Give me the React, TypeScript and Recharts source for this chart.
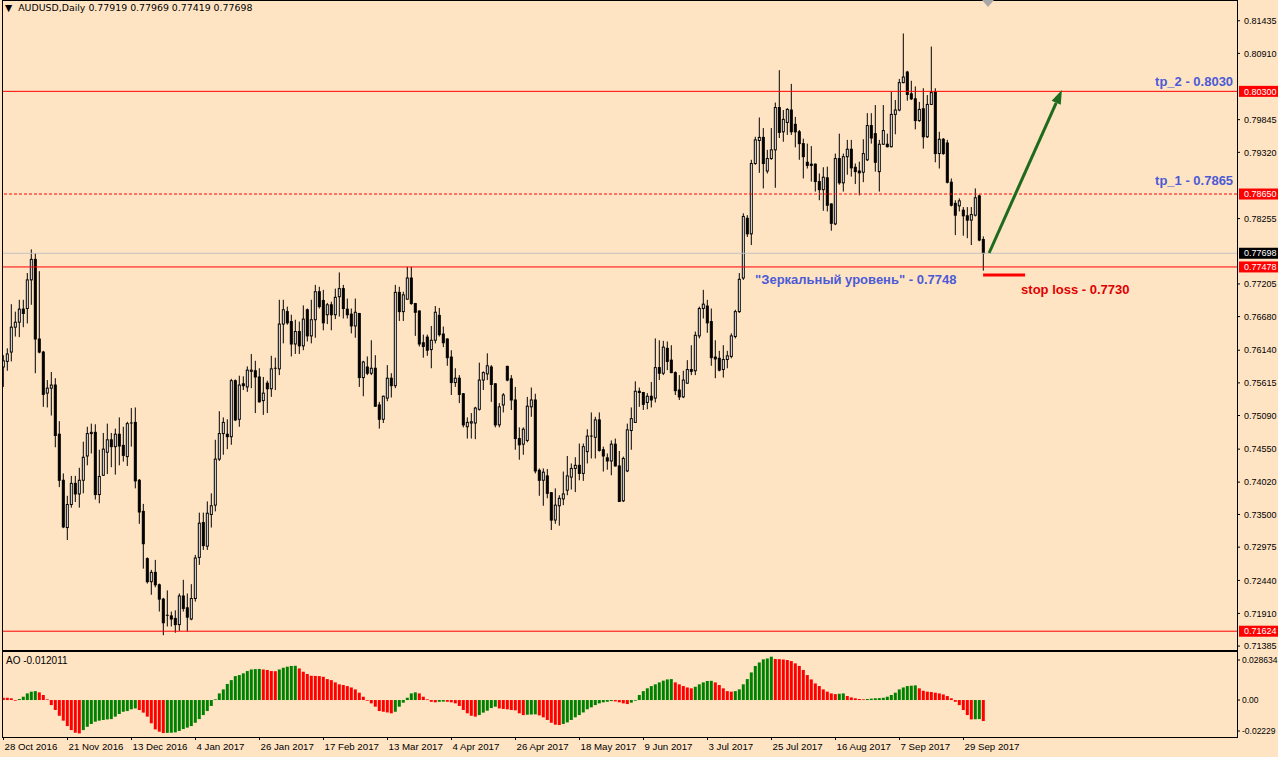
import React from "react";
import { ComposedChart, Bar, XAxis, YAxis, ReferenceLine, ReferenceDot } from "recharts";

// daily AUDUSD candles, 28 Oct 2016 .. early Oct 2017 (index = bar number)
const OPEN = [
  0.7587, 0.7596, 0.7611, 0.7651, 0.7659, 0.768, 0.7681, 0.7727, 0.776, 0.7632,
  0.7611, 0.7545, 0.7553, 0.7558, 0.7479, 0.7405, 0.7329, 0.7366, 0.74, 0.7383,
  0.7405, 0.7444, 0.748, 0.7482, 0.7382, 0.7413, 0.745, 0.747, 0.7459, 0.7479,
  0.7461, 0.7443, 0.7496, 0.7498, 0.7405, 0.7355, 0.7279, 0.7242, 0.7257, 0.7237,
  0.7214, 0.7188, 0.7187, 0.7183, 0.7173, 0.7219, 0.72, 0.7182, 0.7215, 0.7281,
  0.7337, 0.7299, 0.735, 0.7365, 0.7439, 0.748, 0.7479, 0.7475, 0.7565, 0.7503,
  0.756, 0.7555, 0.758, 0.7581, 0.7571, 0.7533, 0.7561, 0.7552, 0.7584, 0.7584,
  0.7656, 0.7676, 0.766, 0.7624, 0.7644, 0.7621, 0.7679, 0.7637, 0.7663, 0.7708,
  0.7694, 0.7671, 0.7687, 0.7671, 0.77, 0.7713, 0.768, 0.7672, 0.7653, 0.7673,
  0.757, 0.7587, 0.7577, 0.7585, 0.7526, 0.7503, 0.7537, 0.7569, 0.7557, 0.7707,
  0.7676, 0.7696, 0.773, 0.7689, 0.7677, 0.7626, 0.7635, 0.7615, 0.763, 0.767,
  0.764, 0.7632, 0.7603, 0.7562, 0.7569, 0.7544, 0.7491, 0.7497, 0.7497, 0.7519,
  0.7566, 0.7576, 0.7587, 0.756, 0.7494, 0.7526, 0.7588, 0.7568, 0.7534, 0.7472,
  0.7463, 0.7469, 0.7523, 0.7534, 0.7421, 0.7405, 0.7412, 0.7385, 0.7341, 0.7364,
  0.7375, 0.7389, 0.741, 0.7424, 0.7429, 0.7416, 0.7451, 0.7476, 0.7474, 0.7502,
  0.7454, 0.7441, 0.7436, 0.7463, 0.7428, 0.7372, 0.742, 0.7485, 0.7498, 0.7548,
  0.7546, 0.753, 0.754, 0.7537, 0.7586, 0.7577, 0.7617, 0.7598, 0.7578, 0.755,
  0.7539, 0.7561, 0.7583, 0.7581, 0.7637, 0.7681, 0.7685, 0.766, 0.7603, 0.7601,
  0.7583, 0.7599, 0.7604, 0.7636, 0.7676, 0.773, 0.7826, 0.7801, 0.7914, 0.7951,
  0.7956, 0.7902, 0.7922, 0.7936, 0.8004, 0.7965, 0.798, 0.8, 0.7977, 0.7965,
  0.7946, 0.7916, 0.7913, 0.7913, 0.7885, 0.7872, 0.7891, 0.7849, 0.7817, 0.7922,
  0.7883, 0.7925, 0.7937, 0.7908, 0.7902, 0.79, 0.792, 0.7975, 0.7962, 0.7901,
  0.7945, 0.7945, 0.7941, 0.7993, 0.8, 0.8044, 0.8061, 0.8026, 0.8018, 0.7983,
  0.8002, 0.7957, 0.8009, 0.8029, 0.793, 0.7953, 0.7947, 0.7884, 0.785, 0.7846,
  0.7839, 0.783, 0.7823, 0.7831, 0.7862, 0.77919,
];
const HIGH = [
  0.7606, 0.7617, 0.7688, 0.7676, 0.7695, 0.7695, 0.7738, 0.7776, 0.777, 0.7741,
  0.7613, 0.7566, 0.7579, 0.7569, 0.75, 0.7416, 0.738, 0.7412, 0.7412, 0.7425,
  0.7467, 0.7491, 0.7496, 0.7495, 0.7454, 0.7481, 0.7496, 0.7481, 0.7488, 0.7506,
  0.7491, 0.7499, 0.7521, 0.7522, 0.7407, 0.7367, 0.7281, 0.7261, 0.7277, 0.7239,
  0.7216, 0.7228, 0.7194, 0.7196, 0.7223, 0.7245, 0.7223, 0.7238, 0.7285, 0.7353,
  0.7353, 0.7371, 0.7384, 0.747, 0.7516, 0.7506, 0.7503, 0.7568, 0.7567, 0.7573,
  0.7572, 0.7588, 0.7608, 0.7597, 0.7585, 0.7571, 0.7565, 0.7605, 0.7602, 0.7695,
  0.7695, 0.7684, 0.7671, 0.7663, 0.766, 0.7686, 0.7681, 0.7695, 0.7719, 0.7716,
  0.7711, 0.769, 0.7692, 0.7713, 0.7739, 0.7719, 0.7697, 0.7681, 0.7697, 0.7674,
  0.7597, 0.7604, 0.763, 0.7606, 0.7531, 0.7541, 0.759, 0.7577, 0.7719, 0.7716,
  0.7708, 0.7748, 0.7748, 0.769, 0.7678, 0.7639, 0.7639, 0.7653, 0.7685, 0.7682,
  0.7652, 0.7633, 0.7614, 0.7585, 0.7574, 0.7545, 0.7506, 0.7513, 0.7523, 0.7594,
  0.758, 0.7609, 0.759, 0.7561, 0.7529, 0.7545, 0.7589, 0.7574, 0.7555, 0.749,
  0.749, 0.7539, 0.7554, 0.7544, 0.7424, 0.7424, 0.7423, 0.7386, 0.7392, 0.7381,
  0.7419, 0.7444, 0.7432, 0.7442, 0.7464, 0.7464, 0.7487, 0.7514, 0.7507, 0.7514,
  0.7459, 0.7448, 0.7469, 0.7472, 0.7452, 0.7443, 0.7496, 0.7522, 0.7564, 0.7554,
  0.7547, 0.7545, 0.7563, 0.7633, 0.763, 0.7629, 0.7628, 0.7622, 0.758, 0.7574,
  0.7581, 0.7598, 0.7622, 0.7644, 0.7684, 0.7711, 0.7695, 0.7681, 0.763, 0.7613,
  0.7622, 0.7613, 0.7641, 0.7679, 0.7738, 0.7834, 0.7831, 0.792, 0.7957, 0.7988,
  0.7971, 0.7936, 0.7971, 0.8012, 0.8064, 0.8, 0.8003, 0.8042, 0.7989, 0.7968,
  0.7954, 0.7946, 0.7942, 0.7914, 0.7898, 0.7908, 0.7909, 0.785, 0.793, 0.7962,
  0.793, 0.7952, 0.7952, 0.7914, 0.7917, 0.7953, 0.7995, 0.7995, 0.8008, 0.7952,
  0.8008, 0.7962, 0.8029, 0.8016, 0.805, 0.8123, 0.8063, 0.8047, 0.8038, 0.8013,
  0.8035, 0.8024, 0.8102, 0.8035, 0.7965, 0.7955, 0.7952, 0.789, 0.7855, 0.7858,
  0.7844, 0.7844, 0.7844, 0.7874, 0.7864, 0.77969,
];
const LOW = [
  0.7555, 0.7581, 0.7596, 0.7636, 0.7635, 0.7651, 0.7657, 0.7687, 0.7577, 0.7609,
  0.7523, 0.7522, 0.7509, 0.7458, 0.7394, 0.7328, 0.7309, 0.7361, 0.737, 0.7361,
  0.7384, 0.7429, 0.7448, 0.7374, 0.7368, 0.7412, 0.7415, 0.7426, 0.7414, 0.7429,
  0.7435, 0.7428, 0.7459, 0.7392, 0.7335, 0.7263, 0.7239, 0.7221, 0.7233, 0.7194,
  0.7156, 0.717, 0.717, 0.716, 0.7163, 0.7194, 0.7162, 0.718, 0.721, 0.7269,
  0.7293, 0.7293, 0.7329, 0.7355, 0.7436, 0.7446, 0.7455, 0.7462, 0.75, 0.7491,
  0.755, 0.7547, 0.7553, 0.7513, 0.753, 0.751, 0.7513, 0.7539, 0.755, 0.7574,
  0.7625, 0.7655, 0.7604, 0.7608, 0.7608, 0.7614, 0.7628, 0.7625, 0.7634, 0.7681,
  0.7646, 0.7656, 0.7646, 0.7664, 0.7668, 0.7665, 0.7665, 0.7641, 0.7634, 0.7555,
  0.754, 0.7574, 0.7574, 0.7523, 0.7488, 0.7497, 0.7532, 0.7538, 0.7553, 0.7661,
  0.7661, 0.7695, 0.7687, 0.7637, 0.762, 0.7602, 0.7605, 0.7585, 0.7625, 0.7636,
  0.7619, 0.7589, 0.7542, 0.7555, 0.7529, 0.749, 0.7472, 0.7472, 0.7471, 0.7517,
  0.755, 0.7566, 0.7531, 0.749, 0.749, 0.7514, 0.7564, 0.7518, 0.7454, 0.7438,
  0.7446, 0.7466, 0.7507, 0.7416, 0.738, 0.7364, 0.7376, 0.7325, 0.7335, 0.7332,
  0.7365, 0.7381, 0.739, 0.7386, 0.7405, 0.7404, 0.7432, 0.744, 0.744, 0.7451,
  0.7419, 0.7422, 0.7413, 0.7427, 0.737, 0.737, 0.7418, 0.7454, 0.7497, 0.7523,
  0.7518, 0.7519, 0.7522, 0.753, 0.7566, 0.7574, 0.7582, 0.7577, 0.7542, 0.7534,
  0.7537, 0.756, 0.7574, 0.7574, 0.7633, 0.7665, 0.7642, 0.7589, 0.7569, 0.758,
  0.757, 0.7585, 0.7601, 0.7633, 0.7674, 0.7727, 0.7796, 0.7783, 0.7912, 0.7899,
  0.7874, 0.7898, 0.792, 0.7875, 0.7955, 0.7949, 0.796, 0.796, 0.794, 0.792,
  0.789, 0.7906, 0.7885, 0.7869, 0.7855, 0.7838, 0.7837, 0.7806, 0.7815, 0.788,
  0.7869, 0.7896, 0.7893, 0.7881, 0.7863, 0.7884, 0.7918, 0.7946, 0.7901, 0.7869,
  0.7944, 0.794, 0.794, 0.7961, 0.7998, 0.8043, 0.8015, 0.8016, 0.7969, 0.7981,
  0.7938, 0.7955, 0.8008, 0.7916, 0.7906, 0.7928, 0.7882, 0.7845, 0.7799, 0.7837,
  0.7798, 0.7794, 0.7783, 0.7829, 0.7789, 0.77419,
];
const CLOSE = [
  0.7597, 0.7608, 0.7651, 0.7659, 0.768, 0.7673, 0.7727, 0.776, 0.7632, 0.7611,
  0.7543, 0.7553, 0.7558, 0.7477, 0.7405, 0.733, 0.7366, 0.74, 0.7383, 0.7405,
  0.7442, 0.748, 0.7482, 0.7382, 0.7411, 0.7455, 0.747, 0.7459, 0.7479, 0.746,
  0.7445, 0.7496, 0.7497, 0.7404, 0.7354, 0.7303, 0.7242, 0.7257, 0.7237, 0.7214,
  0.7176, 0.7187, 0.7182, 0.7173, 0.7219, 0.7199, 0.7185, 0.7215, 0.728, 0.7336,
  0.73, 0.7352, 0.7364, 0.7439, 0.748, 0.7498, 0.7475, 0.7565, 0.7502, 0.7558,
  0.7557, 0.7582, 0.7582, 0.7571, 0.7531, 0.7545, 0.7552, 0.7584, 0.7585, 0.7656,
  0.7679, 0.7658, 0.7624, 0.7644, 0.7621, 0.7664, 0.7637, 0.7663, 0.7708, 0.7684,
  0.7658, 0.7687, 0.7671, 0.7699, 0.7713, 0.7681, 0.7671, 0.7653, 0.7675, 0.757,
  0.7595, 0.7577, 0.7585, 0.7524, 0.7503, 0.754, 0.7569, 0.7557, 0.7707, 0.7676,
  0.7703, 0.773, 0.7689, 0.7675, 0.7624, 0.762, 0.7614, 0.763, 0.7675, 0.7639,
  0.7626, 0.7602, 0.7562, 0.7569, 0.7543, 0.7494, 0.7498, 0.7499, 0.7521, 0.7566,
  0.7578, 0.7589, 0.7559, 0.7494, 0.7523, 0.7542, 0.7566, 0.7534, 0.7472, 0.7462,
  0.7487, 0.7524, 0.7534, 0.742, 0.7405, 0.7418, 0.7384, 0.7341, 0.7365, 0.7376,
  0.7383, 0.7412, 0.7424, 0.7429, 0.7416, 0.7459, 0.7476, 0.7475, 0.7502, 0.7453,
  0.7444, 0.7436, 0.7463, 0.7428, 0.7371, 0.744, 0.7486, 0.7504, 0.7548, 0.7546,
  0.7527, 0.754, 0.7534, 0.7586, 0.7577, 0.7619, 0.7596, 0.7578, 0.7549, 0.7539,
  0.7566, 0.7583, 0.758, 0.7638, 0.7681, 0.7688, 0.7658, 0.7602, 0.76, 0.7582,
  0.7599, 0.7605, 0.7637, 0.7676, 0.7728, 0.7829, 0.7801, 0.7914, 0.7952, 0.7956,
  0.7914, 0.7922, 0.7936, 0.8004, 0.7964, 0.7985, 0.8001, 0.7965, 0.7965, 0.7946,
  0.7925, 0.7911, 0.7911, 0.7885, 0.7872, 0.7892, 0.7847, 0.7818, 0.7922, 0.7883,
  0.7925, 0.7937, 0.7907, 0.7901, 0.7899, 0.793, 0.7975, 0.7955, 0.7916, 0.7945,
  0.7967, 0.7941, 0.7993, 0.8, 0.8044, 0.8053, 0.8025, 0.8018, 0.7983, 0.8001,
  0.7957, 0.8009, 0.8028, 0.793, 0.7953, 0.793, 0.7884, 0.7847, 0.7831, 0.7854,
  0.783, 0.7823, 0.7832, 0.7859, 0.7791, 0.77698,
];
// Awesome Oscillator histogram, one value per bar
const AO = [
  0.0013, 0.0013, 0.001, -0.0004, 0.0006, 0.0019, 0.0038, 0.0048, 0.0051, 0.0044,
  0.0029, 0.0004, -0.0029, -0.0057, -0.009, -0.0118, -0.0149, -0.0172, -0.0187, -0.0191,
  -0.0172, -0.0153, -0.0137, -0.0124, -0.0118, -0.0114, -0.0111, -0.0109, -0.0095, -0.008,
  -0.0067, -0.0063, -0.0053, -0.0048, -0.0057, -0.0072, -0.0095, -0.0133, -0.0168, -0.0181,
  -0.0189, -0.0188, -0.0187, -0.0185, -0.0177, -0.0166, -0.0158, -0.0149, -0.013, -0.0109,
  -0.0086, -0.0063, -0.0034, 0.0004, 0.0038, 0.0061, 0.0092, 0.0114, 0.0137, 0.0143,
  0.0153, 0.0166, 0.0175, 0.0177, 0.0178, 0.0175, 0.0172, 0.0166, 0.0165, 0.0175,
  0.0185, 0.0191, 0.0195, 0.0196, 0.0181, 0.0162, 0.0149, 0.0139, 0.0138, 0.0137,
  0.0133, 0.012, 0.0114, 0.0101, 0.009, 0.0086, 0.008, 0.0072, 0.0061, 0.0042,
  0.0019, -0.0004, -0.0019, -0.0038, -0.0063, -0.0067, -0.0071, -0.0076, -0.0067, -0.0038,
  -0.0015, 0.0013, 0.0038, 0.0044, 0.0038, 0.0019, 0.0004, -0.001, -0.0013, -0.001,
  -0.0009, -0.001, -0.0013, -0.0019, -0.0034, -0.0057, -0.0076, -0.009, -0.0095, -0.0086,
  -0.0072, -0.0061, -0.0046, -0.0038, -0.0048, -0.0051, -0.0053, -0.0057, -0.0059, -0.0076,
  -0.0086, -0.0084, -0.0083, -0.0082, -0.0088, -0.0099, -0.0114, -0.013, -0.0141, -0.0143,
  -0.0137, -0.0128, -0.0114, -0.0099, -0.0086, -0.0071, -0.0053, -0.0042, -0.0029, -0.0019,
  -0.0013, -0.001, -0.0006, -0.0008, -0.0013, -0.0019, -0.0023, -0.0015, -0.0004, 0.0029,
  0.0051, 0.0067, 0.008, 0.009, 0.0101, 0.0111, 0.0118, 0.012, 0.0101, 0.009,
  0.008, 0.0072, 0.0067, 0.0076, 0.009, 0.0101, 0.0109, 0.011, 0.0101, 0.0086,
  0.0067, 0.0051, 0.0048, 0.0051, 0.0061, 0.009, 0.012, 0.0158, 0.0195, 0.0215,
  0.0233, 0.0238, 0.0248, 0.0235, 0.0234, 0.0232, 0.0229, 0.0223, 0.021, 0.0195,
  0.0172, 0.0143, 0.0118, 0.0095, 0.008, 0.0061, 0.0048, 0.0038, 0.0034, 0.0036,
  0.0038, 0.0023, 0.0015, 0.001, 0.0006, 0.0004, 0.0006, 0.0008, 0.001, 0.0011,
  0.0013, 0.0019, 0.0029, 0.0042, 0.0061, 0.0072, 0.008, 0.0082, 0.0084, 0.0067,
  0.0053, 0.0048, 0.0046, 0.0042, 0.0038, 0.0032, 0.0023, 0.001, -0.001, -0.0029,
  -0.0057, -0.0086, -0.0111, -0.011, -0.0109, -0.012011,
];

const DATE_TICKS = [0, 16, 32, 48, 64, 80, 96, 112, 128, 144, 160, 176, 192, 208, 224, 240];
const DATE_LABELS = [
  "28 Oct 2016", "21 Nov 2016", "13 Dec 2016", "4 Jan 2017", "26 Jan 2017", "17 Feb 2017",
  "13 Mar 2017", "4 Apr 2017", "26 Apr 2017", "18 May 2017", "9 Jun 2017", "3 Jul 2017",
  "25 Jul 2017", "16 Aug 2017", "7 Sep 2017", "29 Sep 2017",
];
// price scale labels (the ones hidden behind the level boxes are left out)
const PRICE_TICKS = [
  0.81435, 0.8091, 0.79845, 0.7932, 0.78255, 0.77205, 0.7668, 0.7614, 0.75615,
  0.7509, 0.7455, 0.7402, 0.735, 0.72975, 0.7244, 0.7191, 0.71385,
];
const AO_TICKS = [0.028634, 0, -0.022293];
const AO_TICK_LABELS = ["0.028634", "0.00", "-0.02229"];

// horizontal levels drawn on the chart
const LEVEL_PRICES = [0.803, 0.7865, 0.77698, 0.77478, 0.71624];
const LEVEL_LABELS = ["0.80300", "0.78650", "0.77698", "0.77478", "0.71624"];

// annotations: [bar index, price]
const TP2_AT = [307.4, 0.80386];
const TP1_AT = [307.4, 0.78795];
const MIRROR_AT = [187.9, 0.77204];
const SL_TEXT_AT = [254.4, 0.77043];
const SL_SEGMENT = [[244.9, 0.7735], [255.4, 0.7735]];
const ARROW_SEGMENT = [[246.4, 0.77702], [264.6, 0.80322]];

const FONT = '"Liberation Sans", Arial, sans-serif';
const BG = "#FFE4C4";
const RED = "#FF0000";
const GREEN = "#008000";
const BLUE = "#4B5BD6";
const ARROW = "#1E6B1E";
const LEVEL_STYLE = [
  { stroke: RED, dash: undefined, box: RED },
  { stroke: RED, dash: "3 2", box: RED },
  { stroke: "#C0C0C0", dash: undefined, box: "#000000" },
  { stroke: RED, dash: undefined, box: RED },
  { stroke: RED, dash: undefined, box: RED },
];

const X_DOMAIN = [-0.375, 308.375];

const rows = OPEN.map((o, i) => ({
  i,
  o,
  h: HIGH[i],
  l: LOW[i],
  c: CLOSE[i],
  range: [LOW[i], HIGH[i]],
  ao: AO[i],
  up: i > 0 && AO[i] > AO[i - 1],
}));

function Candle(props: any) {
  const { x, y, width, height, payload } = props;
  if (x == null || !payload) return null;
  const cx = x + width / 2;
  const top = Math.min(y, y + height);
  const bot = Math.max(y, y + height);
  const k = (bot - top) / (payload.h - payload.l || 1);
  const yo = top + (payload.h - payload.o) * k;
  const yc = top + (payload.h - payload.c) * k;
  const bull = payload.c >= payload.o;
  const bt = Math.min(yo, yc);
  const bb = Math.max(yo, yc);
  return (
    <g>
      <line x1={cx} x2={cx} y1={top} y2={bot} stroke="#000" strokeWidth={1} />
      {bb - bt < 1 ? (
        <line x1={cx - 1.5} x2={cx + 1.5} y1={bt} y2={bt} stroke="#000" strokeWidth={1} />
      ) : (
        <rect x={cx - 1} y={bt} width={2} height={bb - bt} fill={bull ? "#fff" : "#000"} stroke="#000" strokeWidth={1} />
      )}
    </g>
  );
}

function AoBar(props: any) {
  const { x, y, width, height, payload } = props;
  if (x == null || !payload) return null;
  const cx = x + width / 2;
  const top = Math.min(y, y + height);
  return <rect x={cx - 1.5} y={top} width={3} height={Math.abs(height)} fill={payload.up ? GREEN : RED} />;
}

function PriceBox(props: any) {
  const { viewBox, txt, boxColor } = props;
  if (!viewBox) return null;
  const x = viewBox.x + viewBox.width + 2;
  const y = viewBox.y;
  return (
    <g>
      <rect x={x} y={y - 5.5} width={41} height={11} fill={boxColor} />
      <text x={x + 5} y={y} dy="0.35em" fontSize={9} fill="#fff" fontFamily={FONT}>
        {txt}
      </text>
    </g>
  );
}

function Arrow(p: any) {
  const { x1, y1, x2, y2 } = p;
  const dx = x2 - x1;
  const dy = y2 - y1;
  const len = Math.hypot(dx, dy) || 1;
  const ux = dx / len;
  const uy = dy / len;
  const bx = x2 - ux * 14;
  const by = y2 - uy * 14;
  return (
    <g>
      <line x1={x1} y1={y1} x2={bx} y2={by} stroke={ARROW} strokeWidth={3} />
      <polygon points={`${x2},${y2} ${bx - uy * 5},${by + ux * 5} ${bx + uy * 5},${by - ux * 5}`} fill={ARROW} />
    </g>
  );
}

const note = (text: string, color: string, anchor: string) => (p: any) =>
  (
    <text x={p.cx} y={p.cy} fill={color} fontSize={13} fontWeight="bold" fontFamily={FONT} textAnchor={anchor}>
      {text}
    </text>
  );

function AoTick(p: any) {
  const v = p.payload.value;
  const k = AO_TICKS.indexOf(v);
  const shift = v > 0 ? 10 : v < 0 ? -8 : 0;
  return (
    <g>
      <line x1={p.x - 7} x2={p.x - 4} y1={p.y + shift} y2={p.y + shift} stroke="#000" />
      <text x={p.x - 2} y={p.y + shift} dy="0.35em" fontSize={8.5} fontFamily={FONT} fill="#000">
        {AO_TICK_LABELS[k]}
      </text>
    </g>
  );
}

function DateTick(p: any) {
  const label = DATE_LABELS[DATE_TICKS.indexOf(p.payload.value)];
  return (
    <g>
      <line x1={p.x} x2={p.x} y1={p.y - 2} y2={p.y + 1} stroke="#000" />
      <text x={p.x + 1} y={p.y + 11} fontSize={9.7} fontFamily={FONT} fill="#000">
        {label}
      </text>
    </g>
  );
}

const line = (left: number, top: number, width: number, height: number) => (
  <div style={{ position: "absolute", left, top, width, height, background: "#000" }} />
);

export default function App() {
  return (
    <div style={{ position: "absolute", left: 0, top: 0, width: 1278, height: 757, background: BG, overflow: "hidden", fontFamily: FONT }}>
      <div style={{ position: "absolute", left: 0, top: 0 }}>
        <ComposedChart width={1278} height={651} data={rows} margin={{ top: 1, right: 0, bottom: 0, left: 2 }}>
          <XAxis dataKey="i" type="number" domain={X_DOMAIN} allowDataOverflow hide />
          <YAxis
            orientation="right"
            type="number"
            domain={[0.71306, 0.81752]}
            allowDataOverflow
            ticks={PRICE_TICKS}
            interval={0}
            tickFormatter={(v: number) => v.toFixed(5)}
            width={41}
            axisLine={false}
            tickLine={{ stroke: "#000" }}
            tickSize={3}
            tickMargin={4}
            tick={{ fontSize: 9, fill: "#000", fontFamily: FONT }}
          />
          {LEVEL_PRICES.map((p, k) => (
            <ReferenceLine
              key={p}
              y={p}
              stroke={LEVEL_STYLE[k].stroke}
              strokeDasharray={LEVEL_STYLE[k].dash}
              strokeWidth={1}
              label={<PriceBox txt={LEVEL_LABELS[k]} boxColor={LEVEL_STYLE[k].box} />}
            />
          ))}
          <Bar dataKey="range" barSize={4} shape={Candle} isAnimationActive={false} />
          <ReferenceLine
            segment={[{ x: SL_SEGMENT[0][0], y: SL_SEGMENT[0][1] }, { x: SL_SEGMENT[1][0], y: SL_SEGMENT[1][1] }]}
            stroke={RED}
            strokeWidth={3}
          />
          <ReferenceLine
            segment={[{ x: ARROW_SEGMENT[0][0], y: ARROW_SEGMENT[0][1] }, { x: ARROW_SEGMENT[1][0], y: ARROW_SEGMENT[1][1] }]}
            shape={Arrow}
          />
          <ReferenceDot x={TP2_AT[0]} y={TP2_AT[1]} r={0} shape={note("tp_2 - 0.8030", BLUE, "end")} />
          <ReferenceDot x={TP1_AT[0]} y={TP1_AT[1]} r={0} shape={note("tp_1 - 0.7865", BLUE, "end")} />
          <ReferenceDot x={MIRROR_AT[0]} y={MIRROR_AT[1]} r={0} shape={note('"Зеркальный уровень" - 0.7748', BLUE, "start")} />
          <ReferenceDot x={SL_TEXT_AT[0]} y={SL_TEXT_AT[1]} r={0} shape={note("stop loss - 0.7730", "#E00000", "start")} />
        </ComposedChart>
      </div>
      <div style={{ position: "absolute", left: 0, top: 650 }}>
        <ComposedChart width={1278} height={107} data={rows} margin={{ top: 0, right: 0, bottom: 0, left: 2 }}>
          <XAxis
            dataKey="i"
            type="number"
            domain={X_DOMAIN}
            allowDataOverflow
            ticks={DATE_TICKS}
            interval={0}
            height={18}
            axisLine={false}
            tickLine={false}
            tickSize={0}
            tickMargin={0}
            tick={DateTick}
          />
          <YAxis
            orientation="right"
            type="number"
            domain={[-0.022293, 0.028634]}
            allowDataOverflow
            ticks={AO_TICKS}
            interval={0}
            width={41}
            axisLine={false}
            tickLine={false}
            tickSize={3}
            tickMargin={4}
            tick={AoTick}
          />
          <Bar dataKey="ao" barSize={4} shape={AoBar} isAnimationActive={false} />
        </ComposedChart>
      </div>
      {/* window frame */}
      {line(2, 0, 1236, 1)}
      {line(2, 0, 1, 738)}
      {line(1237, 0, 1, 738)}
      {line(2, 650, 1236, 2)}
      {line(2, 737, 1236, 1)}
      <svg style={{ position: "absolute", left: 982, top: 0 }} width={12} height={8}>
        <polygon points="0,0 12,0 6,7" fill="#A8A8A8" />
      </svg>
      <div
        style={{
          position: "absolute",
          left: 5,
          top: 2,
          fontSize: 9.4,
          lineHeight: "12px",
          color: "#000",
          whiteSpace: "pre",
          fontFamily: '"DejaVu Sans", sans-serif',
        }}
      >
        {"▼  AUDUSD,Daily 0.77919 0.77969 0.77419 0.77698"}
      </div>
      <div style={{ position: "absolute", left: 6, top: 655, fontSize: 10, lineHeight: "12px", color: "#000" }}>AO -0.012011</div>
    </div>
  );
}
